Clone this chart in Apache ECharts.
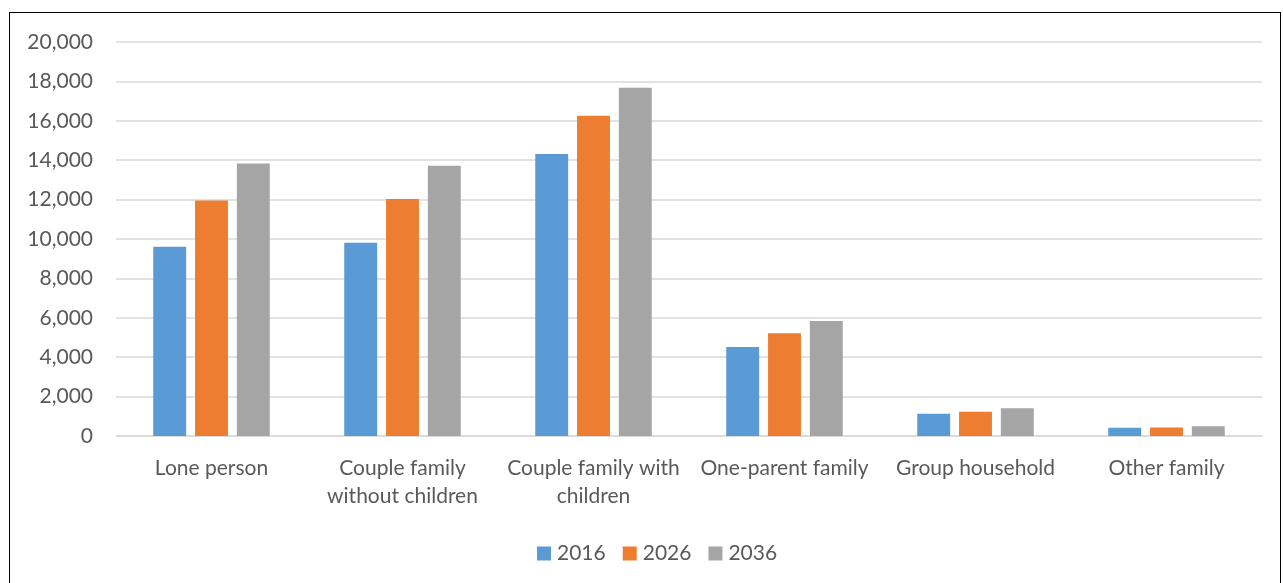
<!DOCTYPE html>
<html lang="en">
<head>
    <meta charset="utf-8">
    <title>Household types</title>
    <script src="https://cdn.jsdelivr.net/npm/echarts@6/dist/echarts.min.js"></script>
    <style type="text/css">
        html, body { height: 100%; margin: 0; background: #fff; }
        #frame {
            position: absolute; left: 9px; top: 12px; width: 1272px; height: 600px;
            border: 1.5px solid #000; box-sizing: border-box;
        }
        #main { position: absolute; left: 0; top: 0; width: 1283px; height: 583px; }
    </style>
</head>
<body>
    <div id="frame"></div>
    <div id="main"></div>
    <script type="text/javascript">
        // categories (line breaks as shown under the axis)
        var categories = ['Lone person', 'Couple family\nwithout children', 'Couple family with\nchildren',
            'One-parent family', 'Group household', 'Other family'];
        var years = ['2016', '2026', '2036'];
        var values2016 = [9610, 9810, 14320, 4520, 1130, 420];
        var values2026 = [11950, 12030, 16260, 5210, 1230, 430];
        var values2036 = [13830, 13720, 17680, 5840, 1410, 500];
        var colors = ['#5b9bd5', '#ed7d31', '#a5a5a5'];

        var myChart = echarts.init(document.getElementById('main'));
        var fontFamily = 'Lato, "Open Sans", sans-serif';

        var option = {
            animation: false,
            color: colors,
            textStyle: { fontFamily: fontFamily },
            grid: { left: 116, right: 21, top: 42, bottom: 147 },
            legend: {
                top: 538,
                left: 532,
                itemWidth: 14,
                itemHeight: 14,
                itemGap: 17,
                icon: 'rect',
                textStyle: { fontSize: 21, color: '#595959', fontFamily: fontFamily, padding: [0, 0, 0, 1] },
                data: years
            },
            xAxis: {
                type: 'category',
                data: categories,
                axisLine: { lineStyle: { color: '#d9d9d9', width: 1.5 } },
                axisTick: { show: false },
                axisLabel: {
                    color: '#595959', fontSize: 21, margin: 18, lineHeight: 28,
                    interval: 0, fontFamily: fontFamily
                }
            },
            yAxis: {
                type: 'value',
                min: 0,
                max: 20000,
                interval: 2000,
                axisLine: { show: false },
                axisTick: { show: false },
                splitLine: { lineStyle: { color: '#d9d9d9', width: 1.5 } },
                axisLabel: {
                    color: '#595959', fontSize: 21, margin: 23, fontFamily: fontFamily,
                    formatter: function (v) { return v.toLocaleString('en-US'); }
                }
            },
            series: [
                { name: years[0], type: 'bar', data: values2016, barGap: '27%', barCategoryGap: '39%' },
                { name: years[1], type: 'bar', data: values2026, barGap: '27%', barCategoryGap: '39%' },
                { name: years[2], type: 'bar', data: values2036, barGap: '27%', barCategoryGap: '39%' }
            ]
        };
        myChart.setOption(option);
    </script>
</body>
</html>
